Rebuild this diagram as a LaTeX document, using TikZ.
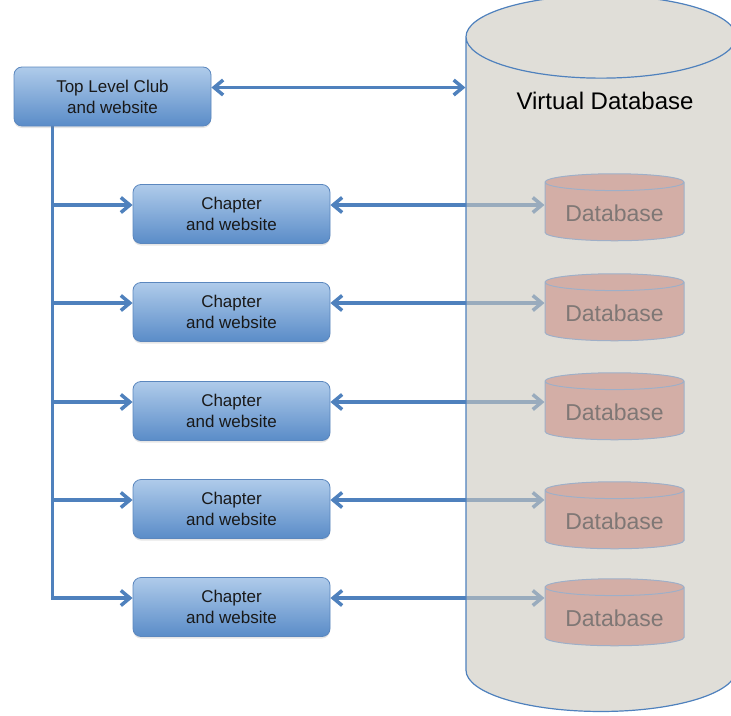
\documentclass[tikz,border=0pt]{standalone}
\usepackage{fontspec}
\setmainfont{Liberation Sans}
\usetikzlibrary{arrows.meta,shapes.geometric,shadows}

\definecolor{linkblue}{HTML}{4F81BD}
\definecolor{boxtop}{HTML}{AFCBEA}
\definecolor{boxbot}{HTML}{5A8CC8}
\definecolor{boxline}{HTML}{5B87BE}
\definecolor{vdbfill}{HTML}{CBC8BE}
\definecolor{dbfill}{HTML}{CC8F86}
\definecolor{dbline}{HTML}{9EAFC8}
\definecolor{dbtext}{HTML}{7F7775}

\pgfdeclarelayer{linklayer}
\pgfdeclarelayer{front}
\pgfsetlayers{linklayer,main,front}

\begin{document}
\begin{tikzpicture}[x=1pt, y=-1pt,
      clubbox/.style={rectangle, rounded corners=8pt, draw=boxline, line width=0.8pt,
        top color=boxtop, bottom color=boxbot, minimum width=197pt, minimum height=59pt,
        align=center, text=black!90, font=\fontsize{17}{21}\selectfont,
        drop shadow={opacity=0.2, shadow xshift=0pt, shadow yshift=-2pt}},
      vdbnode/.style={cylinder, shape border rotate=90, aspect=0.4, text width=200pt,
        draw=linkblue, line width=1.2pt, fill=vdbfill, fill opacity=0.6, draw opacity=1,
        minimum width=270pt, minimum height=716pt},
      dbnode/.style={cylinder, shape border rotate=90, aspect=0.16, draw=dbline,
        line width=1pt, fill=dbfill, fill opacity=0.6, text opacity=1, text=dbtext,
        minimum width=139pt, minimum height=67pt,
        font=\fontsize{23}{27}\selectfont},
      link/.style={draw=linkblue, line width=3.5pt},
      tip/.tip={Straight Barb[length=9pt, width=15pt]}
    ]
    \useasboundingbox (0,0) rectangle (731,715);

    % clubs
    \node[clubbox] (top) at (112.5,96.5) {Top Level Club\\and website};
    \foreach \i/\y in {1/214, 2/312, 3/411, 4/509, 5/607}
      \node[clubbox] (ch\i) at (231.5,\y) {Chapter\\and website};

    % virtual database
    \node[vdbnode] (vdb) at (601,379) {};
    \node[font=\fontsize{24}{28}\selectfont] (vdblabel) at (605,101) {Virtual Database};

    % databases
    \begin{pgfonlayer}{front}
      \foreach \i/\y in {1/213, 2/313, 3/412, 4/521, 5/618}
        \node[dbnode] (db\i) at (614.5,\y) {Database};
    \end{pgfonlayer}

    % links
    \coordinate (trunk) at ([xshift=39pt]top.south west);
    \coordinate (topport) at ([yshift=9pt]top.east);
    \begin{pgfonlayer}{linklayer}
      \draw[link, tip-tip] (topport) -- (topport -| vdb.west);
      \foreach \i in {1,...,5} {
        \coordinate (port\i) at ([yshift=9pt]ch\i.east);
        \draw[link, -tip] (trunk) |- ([yshift=9pt]ch\i.west);
        \draw[link, tip-tip] (port\i) -- (port\i -| db\i.west);
      }
    \end{pgfonlayer}
  \end{tikzpicture}
\end{document}
